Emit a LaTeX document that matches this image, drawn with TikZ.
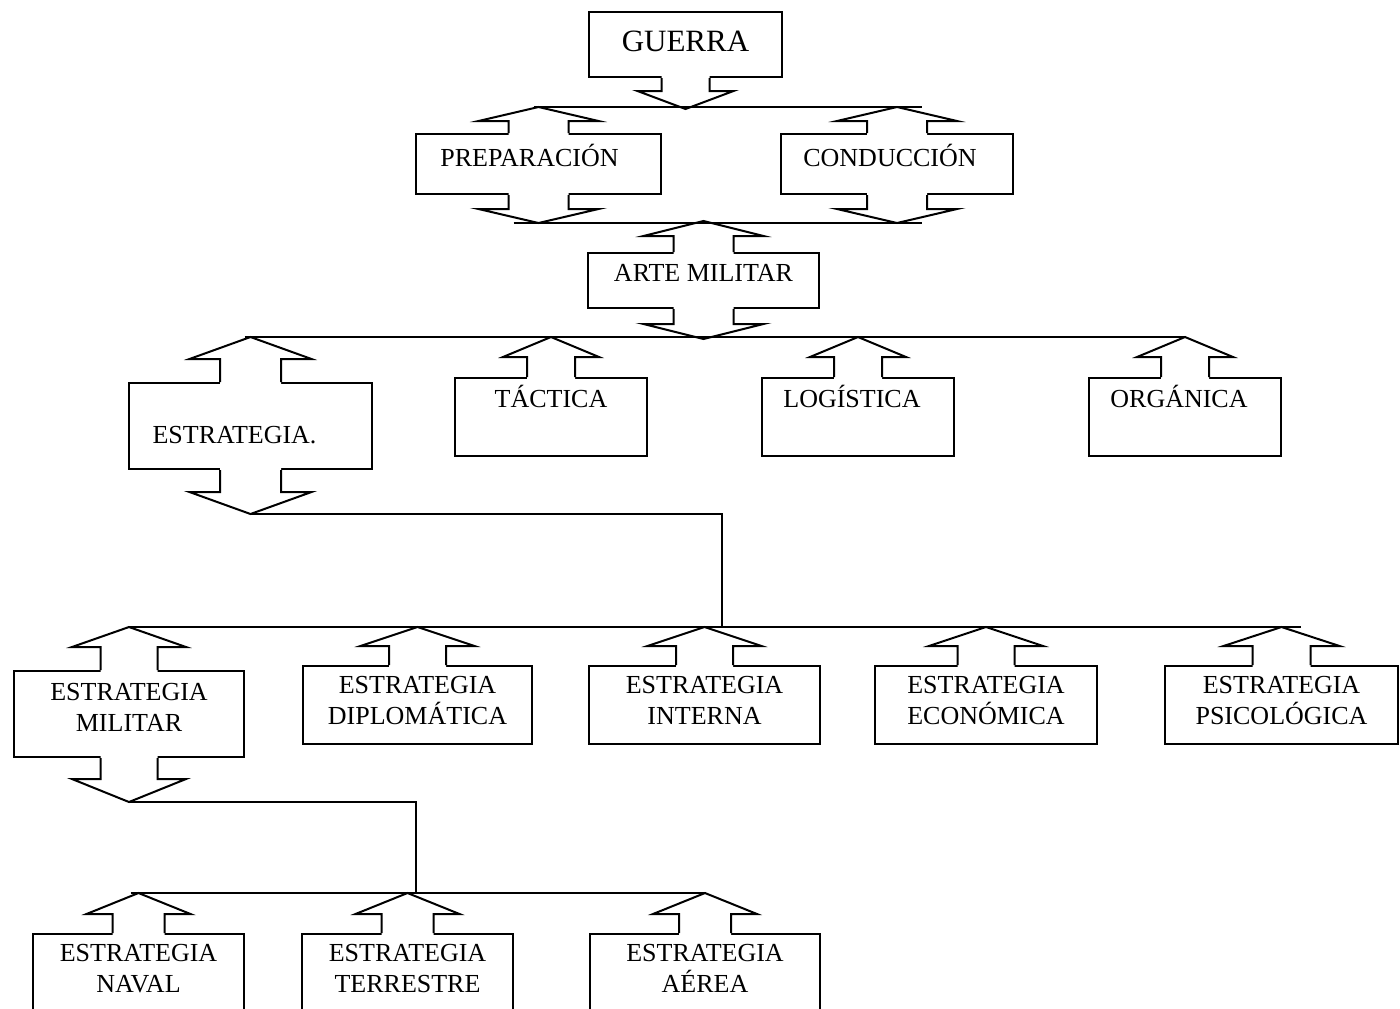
\documentclass[tikz,border=0pt]{standalone}
\usepackage{fontspec}
\setmainfont{Liberation Serif}
\usepackage{tikz}
\usetikzlibrary{positioning}

% arrow on top of a box: node, wing half width, shaft, head
\newcommand{\arrowup}[4]{%
  \fill[white] (#1.north) ++(-#2/2,2) -- ++(0,-2-#3) -- ++(-#2/2,0) -- ++(#2,-#4)
    -- ++(#2,#4) -- ++(-#2/2,0) -- ++(0,2+#3) -- cycle;
  \draw (#1.north) ++(-#2/2,0) -- ++(0,-#3) -- ++(-#2/2,0) -- ++(#2,-#4) coordinate (#1-top)
    -- ++(#2,#4) -- ++(-#2/2,0) -- ++(0,#3);
}
% arrow below a box
\newcommand{\arrowdown}[4]{%
  \fill[white] (#1.south) ++(-#2/2,-2) -- ++(0,2+#3) -- ++(-#2/2,0) -- ++(#2,#4)
    -- ++(#2,-#4) -- ++(-#2/2,0) -- ++(0,-2-#3) -- cycle;
  \draw (#1.south) ++(-#2/2,0) -- ++(0,#3) -- ++(-#2/2,0) -- ++(#2,#4) coordinate (#1-bot)
    -- ++(#2,-#4) -- ++(-#2/2,0) -- ++(0,-#3);
}

\begin{document}
\begin{tikzpicture}[x=0.5pt, y=-0.5pt, line width=1pt,
    box/.style={draw, inner sep=0pt, anchor=north west},
    wh/.style 2 args={minimum width=#1*0.5pt, minimum height=#2*0.5pt},
    lbl/.style={inner sep=0pt, align=center, anchor=base, font=\fontsize{13}{15.5}\selectfont},
    lbltwo/.style={lbl, anchor=north}]
  \useasboundingbox (0,0) rectangle (1400,1008);
  % level 1
  \node[box, wh={193}{65}, label={[lbl, font=\fontsize{15.5}{18}\selectfont, yshift=-20pt]north:GUERRA}] (guerra) at (588,11) {};
  \arrowdown{guerra}{48}{13}{18}
  % level 2
  \node[box, wh={245}{60}, label={[lbl, yshift=-16.5pt, xshift=-4.5pt]north:PREPARACIÓN}] (prep) at (415,133) {};
  \node[box, wh={232}{60}, label={[lbl, yshift=-16.5pt, xshift=-3.5pt]north:CONDUCCIÓN}] (cond) at (780,133) {};
  \arrowup{prep}{60}{12}{14}
  \arrowdown{prep}{60}{14}{14}
  \arrowup{cond}{60}{12}{14}
  \arrowdown{cond}{60}{14}{14}
  % level 3
  \node[box, wh={231}{55}, label={[lbl, yshift=-14.5pt]north:ARTE MILITAR}] (arte) at (587,252) {};
  \arrowup{arte}{60}{16}{15}
  \arrowdown{arte}{60}{15}{15}
  % level 4
  \node[box, wh={243}{86}, label={[lbl, yshift=-30.5pt, xshift=-8pt]north:ESTRATEGIA.}] (estr) at (128,382) {};
  \node[box, wh={192}{78}, label={[lbl, yshift=-15pt]north:TÁCTICA}] (tact) at (454,377) {};
  \node[box, wh={192}{78}, label={[lbl, yshift=-15pt, xshift=-3pt]north:LOGÍSTICA}] (logi) at (761,377) {};
  \node[box, wh={192}{78}, label={[lbl, yshift=-15pt, xshift=-3pt]north:ORGÁNICA}] (orga) at (1088,377) {};
  \arrowup{estr}{61}{23}{22}
  \arrowdown{estr}{61}{22}{22}
  \arrowup{tact}{48}{20}{20}
  \arrowup{logi}{48}{20}{20}
  \arrowup{orga}{48}{20}{20}
  % level 5
  \node[box, wh={230}{86}, label={[lbltwo, yshift=-6pt]north:ESTRATEGIA\\MILITAR}] (emil) at (13,670) {};
  \node[box, wh={229}{78}, label={[lbltwo, yshift=-5pt]north:ESTRATEGIA\\DIPLOMÁTICA}] (dipl) at (302,665) {};
  \node[box, wh={231}{78}, label={[lbltwo, yshift=-5pt]north:ESTRATEGIA\\INTERNA}] (inte) at (588,665) {};
  \node[box, wh={222}{78}, label={[lbltwo, yshift=-5pt]north:ESTRATEGIA\\ECONÓMICA}] (econ) at (874,665) {};
  \node[box, wh={233}{78}, label={[lbltwo, yshift=-5pt]north:ESTRATEGIA\\PSICOLÓGICA}] (psic) at (1164,665) {};
  \arrowup{emil}{57}{23}{20}
  \arrowdown{emil}{57}{21}{23}
  \arrowup{dipl}{57}{19}{19}
  \arrowup{inte}{57}{19}{19}
  \arrowup{econ}{57}{19}{19}
  \arrowup{psic}{58}{19}{19}
  % level 6
  \node[box, wh={211}{100}, label={[lbltwo, yshift=-5pt]north:ESTRATEGIA\\NAVAL}] (nava) at (32,933) {};
  \node[box, wh={211}{100}, label={[lbltwo, yshift=-5pt]north:ESTRATEGIA\\TERRESTRE}] (terr) at (301,933) {};
  \node[box, wh={230}{100}, label={[lbltwo, yshift=-5pt]north:ESTRATEGIA\\AÉREA}] (aere) at (589,933) {};
  \arrowup{nava}{52}{19}{21}
  \arrowup{terr}{52}{19}{21}
  \arrowup{aere}{52}{19}{21}
  % connectors
  \draw[shorten <=-2.5pt, shorten >=-12.5pt] (prep-top) -- (cond-top);
  \draw[shorten <=-12.5pt, shorten >=-12.5pt] (prep-bot) -- (cond-bot);
  \draw[shorten <=-3pt] (estr-top) -- (orga-top);
  \coordinate (j1) at (722,627);
  \draw (estr-bot) -| (j1);
  \draw[shorten >=-9.5pt] (emil-top) -- (psic-top);
  \coordinate (j2) at (416,893);
  \draw (emil-bot) -| (j2);
  \draw[shorten <=-4pt] (nava-top) -- (aere-top);
\end{tikzpicture}
\end{document}
